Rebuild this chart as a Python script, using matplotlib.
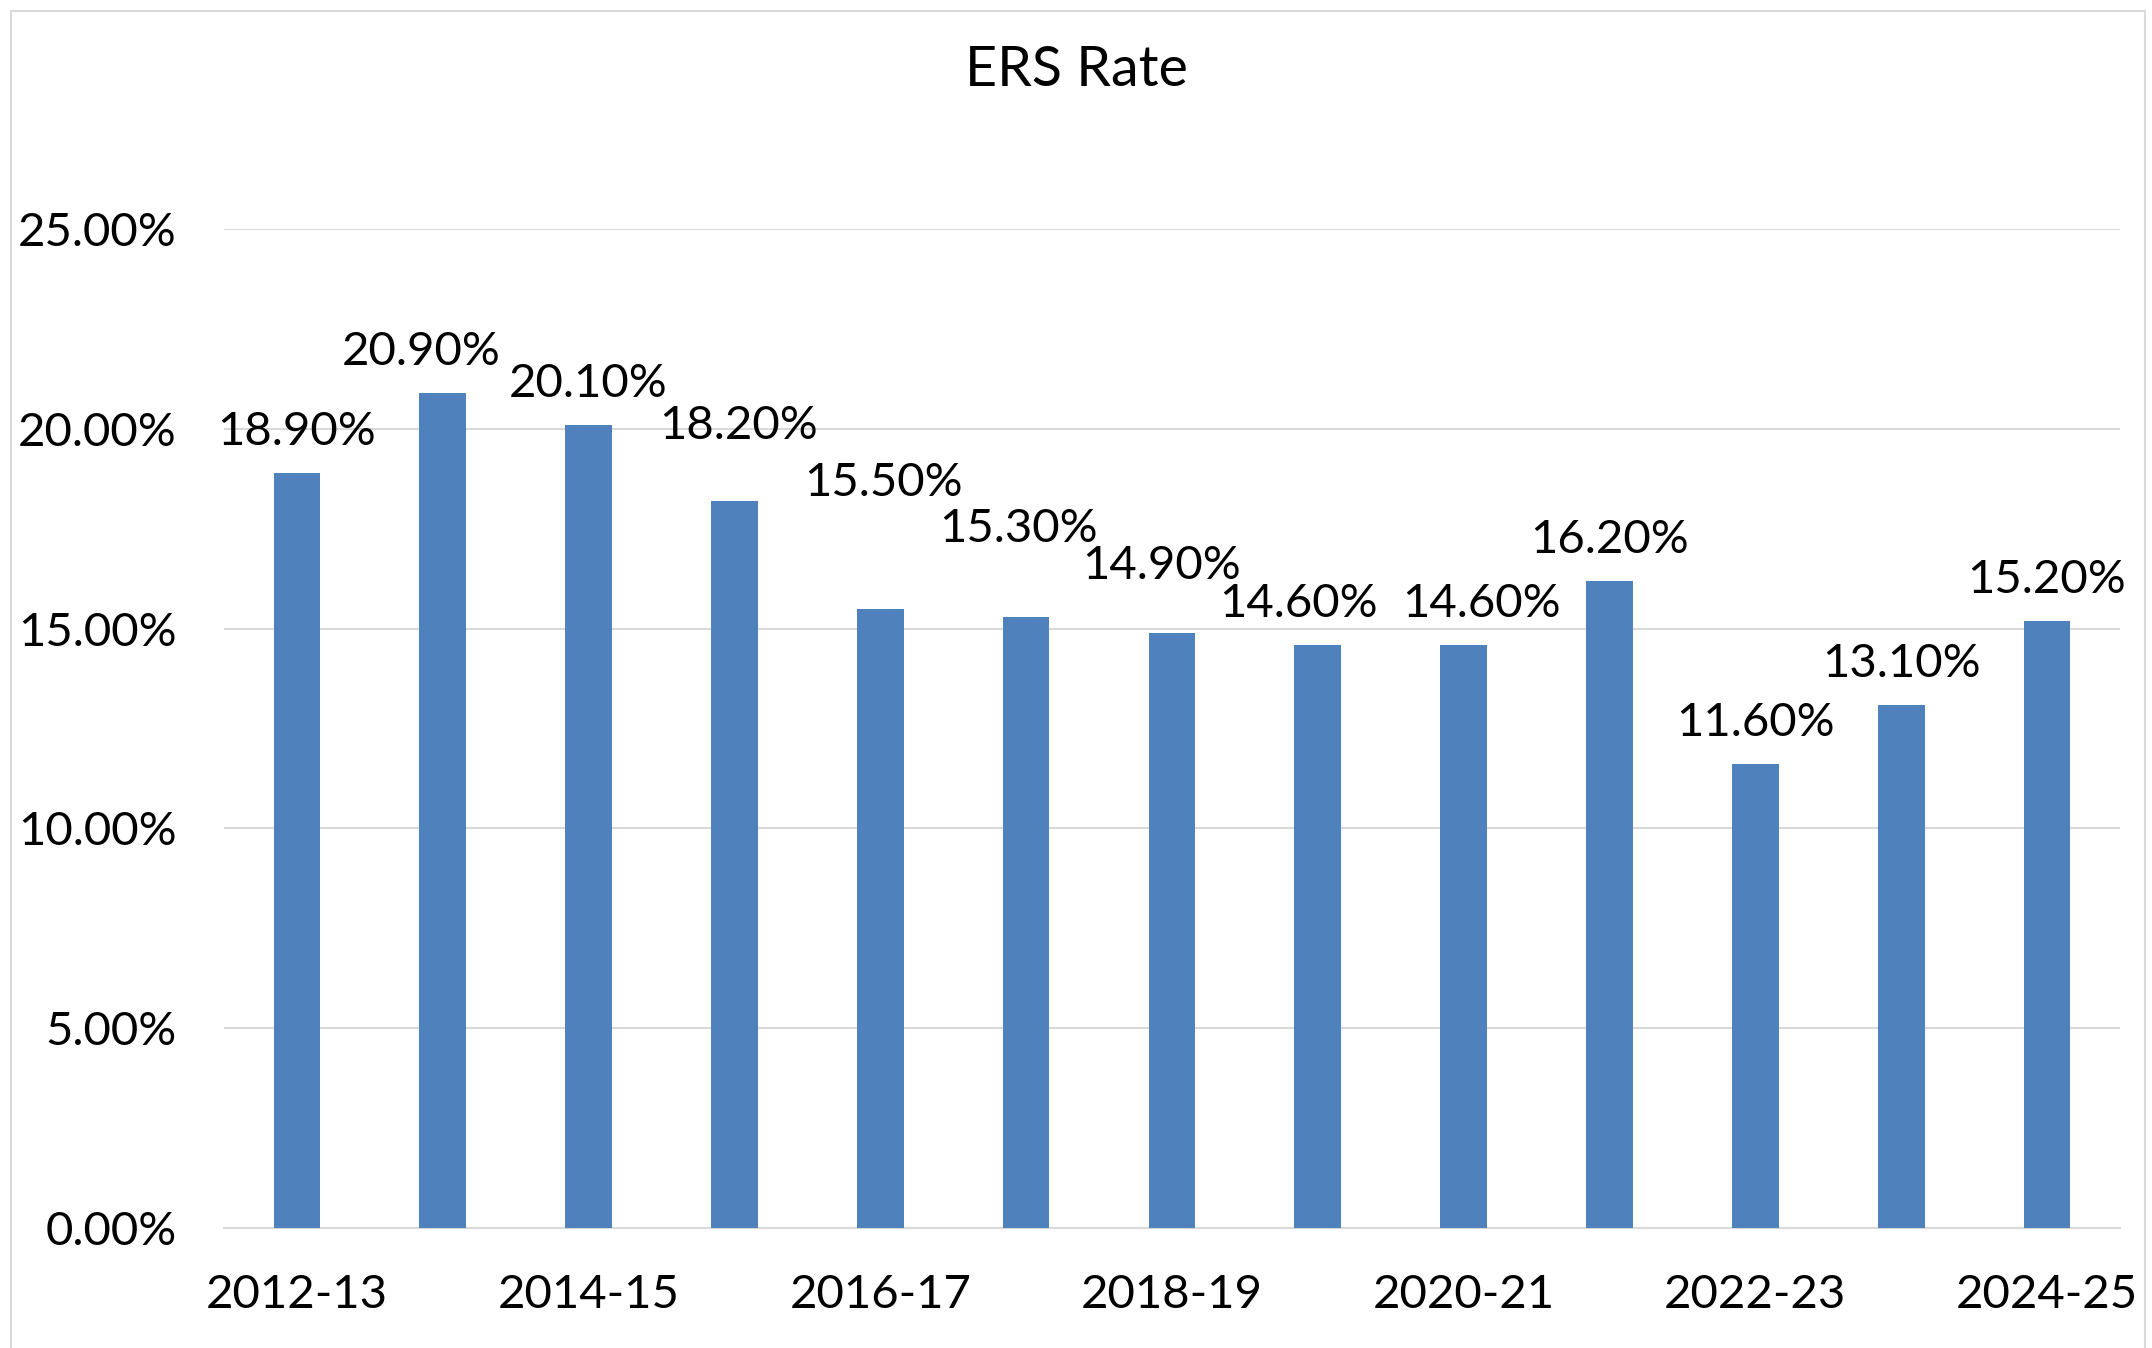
import matplotlib
matplotlib.use("Agg")
import matplotlib.pyplot as plt
from matplotlib.patches import Rectangle
from matplotlib.ticker import FuncFormatter, MultipleLocator

BLUE = "#4F81BD"
GRID = "#D9D9D9"

years = ["2012-13", "2013-14", "2014-15", "2015-16", "2016-17", "2017-18", "2018-19",
         "2019-20", "2020-21", "2021-22", "2022-23", "2023-24", "2024-25"]
ers_rate = [18.9, 20.9, 20.1, 18.2, 15.5, 15.3, 14.9, 14.6, 14.6, 16.2, 11.6, 13.1, 15.2]

# hand-dragged label nudges in the original (pixels)
lab_dx = [0, -22, 0, 4, 3, -8, -10, -19, 18, 0, 0, 0, 0]
lab_dy = [0, 0, 0, 34, 85, 47, 26, 0, 0, 0, 0, 0, 0]

plt.rcParams["font.family"] = ["Lato", "DejaVu Sans"]

fig = plt.figure(figsize=(21.52, 13.48), dpi=100)
ax = fig.add_axes([0.1041, 0.0890, 0.8810, 0.7411])

x = list(range(len(years)))
ax.bar(x, ers_rate, width=0.32, color=BLUE, zorder=3)

ax.set_xlim(-0.5, len(years) - 0.5)
ax.set_ylim(0, 25)
ax.yaxis.set_major_locator(MultipleLocator(5))
ax.yaxis.set_major_formatter(FuncFormatter(lambda v, p: f"{v:.2f}%"))
ax.grid(axis="y", color=GRID, lw=1.5, zorder=0)
ax.set_xticks(x[::2])
ax.set_xticklabels(years[::2])
ax.tick_params(axis="y", length=0, pad=34, labelsize=34)
ax.tick_params(axis="x", length=0, pad=33, labelsize=34)
for s in ["top", "right", "left"]:
    ax.spines[s].set_visible(False)
ax.spines["bottom"].set_color(GRID)
ax.spines["bottom"].set_linewidth(1.5)

# data labels
for i, v in enumerate(ers_rate):
    ax.annotate(f"{v:.2f}%", (x[i], v), xytext=(lab_dx[i], 41 + lab_dy[i]),
                textcoords="offset pixels", ha="center", va="center", fontsize=34, zorder=4)

fig.text(0.5, 1 - 71 / 1348, "ERS Rate", ha="center", va="center", fontsize=40)

# chart frame
fig.add_artist(Rectangle((11 / 2152, -0.01), (2145 - 11) / 2152, 1.01 - 11 / 1348,
                         transform=fig.transFigure, fill=False, edgecolor=GRID, lw=1.5))

fig.savefig("out.png", dpi=100, facecolor="white")
